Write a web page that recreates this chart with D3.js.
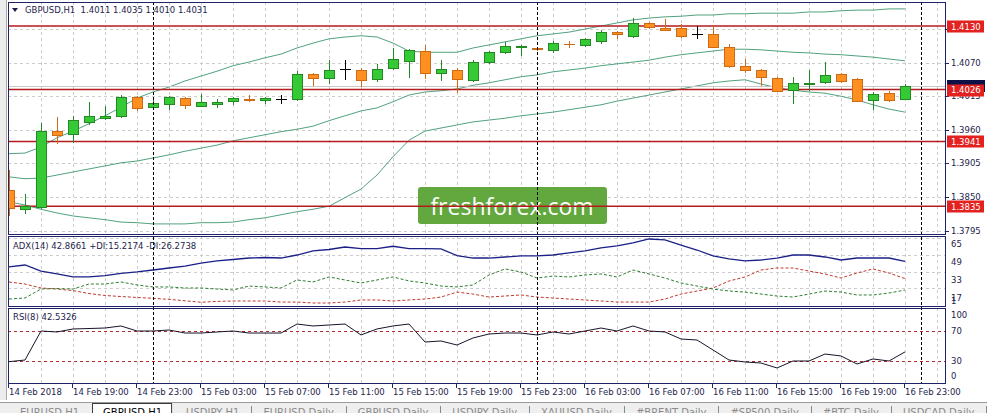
<!DOCTYPE html>
<html>
<head>
<meta charset="utf-8">
<script src="https://cdn.jsdelivr.net/npm/d3@7/dist/d3.min.js"></script>
<style>
body { margin: 0; background: #fff; overflow: hidden; }
svg { display: block; }
text { font-family: 'DejaVu Sans', sans-serif; }
</style>
</head>
<body>
<div id="chart"></div>
<script>
// ---- data (GBPUSD H1, 14 Feb 15:00 .. 16 Feb 23:00) ----
const symbolTitle = 'GBPUSD,H1  1.4011 1.4035 1.4010 1.4031';
const adxTitle = 'ADX(14) 42.8661 +DI:15.2174 -DI:26.2738';
const rsiTitle = 'RSI(8) 42.5326';

const tickLabels = ['14 Feb 2018', '14 Feb 19:00', '14 Feb 23:00', '15 Feb 03:00', '15 Feb 07:00',
    '15 Feb 11:00', '15 Feb 15:00', '15 Feb 19:00', '15 Feb 23:00', '16 Feb 03:00', '16 Feb 07:00',
    '16 Feb 11:00', '16 Feb 15:00', '16 Feb 19:00', '16 Feb 23:00'];

const opens = [1.3862, 1.3830, 1.3834, 1.3958, 1.3953, 1.3973, 1.3979, 1.3983, 1.4014, 1.3997,
    1.4002, 1.4012, 1.3999, 1.4002, 1.4007, 1.4011, 1.4009, 1.4011, 1.4011, 1.4051,
    1.4045, 1.4060, 1.4058, 1.4043, 1.4061, 1.4073, 1.4089, 1.4053, 1.4058, 1.4042,
    1.4071, 1.4087, 1.4096, 1.4094, 1.4091, 1.4101, 1.4099, 1.4106, 1.4120, 1.4114,
    1.4135, 1.4127, 1.4127, 1.4117, 1.4117, 1.4096, 1.4065, 1.4058, 1.4045, 1.4025,
    1.4035, 1.4038, 1.4051, 1.4043, 1.4009, 1.4020, 1.4011];
const highs = [1.3894, 1.3855, 1.3971, 1.3981, 1.3983, 1.4006, 1.3999, 1.4017, 1.4015, 1.4009,
    1.4015, 1.4014, 1.4019, 1.4011, 1.4014, 1.4017, 1.4014, 1.4017, 1.4056, 1.4053,
    1.4074, 1.4074, 1.4061, 1.4068, 1.4094, 1.4092, 1.4099, 1.4074, 1.4061, 1.4074,
    1.4089, 1.4104, 1.4099, 1.4096, 1.4106, 1.4106, 1.4110, 1.4124, 1.4122, 1.4143,
    1.4137, 1.4142, 1.4133, 1.4130, 1.4130, 1.4101, 1.4076, 1.4060, 1.4047, 1.4047,
    1.4058, 1.4071, 1.4053, 1.4045, 1.4022, 1.4024, 1.4035];
const lows = [1.3821, 1.3824, 1.3832, 1.3939, 1.3940, 1.3970, 1.3978, 1.3981, 1.3993, 1.3994,
    1.3994, 1.3996, 1.3999, 1.3997, 1.4002, 1.4007, 1.4004, 1.4004, 1.4009, 1.4033,
    1.4037, 1.4043, 1.4032, 1.4040, 1.4060, 1.4047, 1.4045, 1.4042, 1.4022, 1.4040,
    1.4069, 1.4086, 1.4083, 1.4091, 1.4087, 1.4096, 1.4097, 1.4102, 1.4110, 1.4112,
    1.4127, 1.4124, 1.4112, 1.4110, 1.4096, 1.4063, 1.4055, 1.4033, 1.4024, 1.4004,
    1.4025, 1.4037, 1.4038, 1.4007, 1.3994, 1.4007, 1.4010];
const closes = [1.3832, 1.3835, 1.3958, 1.3952, 1.3976, 1.3983, 1.3983, 1.4014, 1.3996, 1.4004,
    1.4014, 1.4001, 1.4006, 1.4006, 1.4012, 1.4009, 1.4012, 1.4011, 1.4051, 1.4045,
    1.4058, 1.4060, 1.4042, 1.4060, 1.4076, 1.4091, 1.4053, 1.4060, 1.4043, 1.4071,
    1.4087, 1.4097, 1.4097, 1.4092, 1.4102, 1.4100, 1.4109, 1.4120, 1.4117, 1.4135,
    1.4128, 1.4124, 1.4114, 1.4117, 1.4096, 1.4065, 1.4058, 1.4047, 1.4024, 1.4037,
    1.4037, 1.4050, 1.4040, 1.4007, 1.4019, 1.4009, 1.4031];

// Bollinger bands
const bbUpper = [1.3921, 1.3922, 1.3932, 1.3947, 1.3958, 1.3970, 1.3983, 1.3997, 1.4012, 1.4022,
    1.4030, 1.4040, 1.4048, 1.4056, 1.4065, 1.4071, 1.4078, 1.4084, 1.4094, 1.4102,
    1.4109, 1.4112, 1.4114, 1.4112, 1.4102, 1.4089, 1.4087, 1.4087, 1.4087, 1.4094,
    1.4099, 1.4104, 1.4109, 1.4114, 1.4117, 1.4120, 1.4125, 1.4130, 1.4135, 1.4140,
    1.4143, 1.4145, 1.4146, 1.4148, 1.4148, 1.4150, 1.4150, 1.4151, 1.4151, 1.4151,
    1.4153, 1.4153, 1.4155, 1.4156, 1.4156, 1.4158, 1.4158];
const bbMiddle = [1.3883, 1.3880, 1.3881, 1.3886, 1.3891, 1.3896, 1.3901, 1.3906, 1.3909, 1.3914,
    1.3919, 1.3925, 1.3930, 1.3935, 1.3942, 1.3947, 1.3952, 1.3957, 1.3961, 1.3966,
    1.3975, 1.3983, 1.3991, 1.3996, 1.4006, 1.4017, 1.4022, 1.4024, 1.4027, 1.4033,
    1.4037, 1.4042, 1.4047, 1.4050, 1.4055, 1.4058, 1.4061, 1.4065, 1.4068, 1.4071,
    1.4074, 1.4079, 1.4083, 1.4086, 1.4089, 1.4092, 1.4092, 1.4091, 1.4089, 1.4087,
    1.4086, 1.4084, 1.4083, 1.4081, 1.4079, 1.4076, 1.4073];
const bbLower = [1.3842, 1.3837, 1.3830, 1.3824, 1.3819, 1.3816, 1.3813, 1.3809, 1.3808, 1.3806,
    1.3806, 1.3806, 1.3808, 1.3808, 1.3809, 1.3813, 1.3816, 1.3821, 1.3826, 1.3830,
    1.3835, 1.3849, 1.3863, 1.3886, 1.3916, 1.3943, 1.3958, 1.3963, 1.3968, 1.3973,
    1.3976, 1.3979, 1.3983, 1.3986, 1.3989, 1.3993, 1.3997, 1.4001, 1.4007, 1.4012,
    1.4017, 1.4022, 1.4027, 1.4032, 1.4037, 1.4040, 1.4042, 1.4035, 1.4029, 1.4025,
    1.4022, 1.4020, 1.4015, 1.4009, 1.4001, 1.3994, 1.3989];

// ADX(14)
const adx = [37.4, 39.3, 33.5, 30.7, 27.8, 27.8, 29.0, 31.2, 32.6, 34.5,
    36.4, 38.3, 41.2, 43.2, 44.6, 46.0, 46.5, 46.0, 48.9, 52.8,
    54.2, 56.6, 55.0, 55.0, 57.3, 55.0, 55.0, 54.7, 48.4, 46.0,
    46.0, 47.0, 48.0, 48.0, 48.9, 50.9, 52.8, 55.7, 57.6, 60.5,
    64.3, 63.4, 58.5, 53.7, 48.0, 45.1, 43.2, 44.1, 46.0, 48.9,
    48.9, 47.0, 44.1, 46.0, 46.0, 46.0, 42.87];
const plusDI = [6.6, 7.6, 16.2, 16.7, 16.2, 21.0, 21.0, 23.0, 20.1, 18.2,
    18.2, 17.2, 17.2, 16.2, 15.3, 19.1, 18.2, 17.2, 24.9, 23.0,
    27.8, 24.9, 22.0, 24.9, 27.8, 24.0, 22.0, 19.1, 18.2, 20.1,
    29.7, 35.5, 32.6, 26.8, 28.7, 27.8, 29.7, 30.7, 27.8, 34.5,
    30.7, 26.8, 22.0, 19.1, 16.2, 14.3, 13.3, 11.4, 9.5, 8.5,
    11.4, 14.3, 13.3, 10.5, 10.5, 12.4, 15.22];
const minusDI = [23.0, 21.0, 17.2, 16.2, 14.7, 11.9, 10.0, 9.0, 8.1, 7.3,
    6.3, 4.9, 3.5, 4.3, 4.7, 4.7, 4.7, 3.7, 3.7, 2.8,
    2.8, 3.7, 5.7, 5.7, 4.7, 5.7, 6.6, 8.5, 13.3, 11.4,
    8.5, 9.5, 10.5, 8.5, 7.6, 6.6, 5.7, 4.7, 3.7, 3.7,
    3.7, 6.6, 11.4, 14.3, 17.2, 23.9, 27.8, 34.5, 36.4, 36.4,
    33.5, 30.7, 26.8, 31.6, 35.5, 31.6, 26.27];

// RSI(8)
const rsi = [29.5, 31.7, 70.4, 69.1, 73.1, 73.7, 74.4, 77.1, 70.4, 70.4,
    71.7, 67.7, 67.7, 69.1, 70.4, 67.7, 67.7, 67.7, 79.7, 77.1,
    78.4, 79.7, 65.1, 73.1, 77.1, 79.7, 55.7, 57.1, 51.7, 61.1,
    66.4, 67.7, 67.7, 65.1, 69.1, 66.4, 70.4, 74.4, 70.4, 77.1,
    70.4, 69.1, 59.7, 58.4, 45.1, 31.7, 29.1, 27.7, 21.1, 30.4,
    30.4, 39.7, 37.1, 26.4, 33.1, 30.4, 42.53];

const levels = [1.4130, 1.4026, 1.3941, 1.3835];   // horizontal lines
const lastPrice = 1.4031;
const priceTicks = [1.4125, 1.4070, 1.4015, 1.3960, 1.3905, 1.3850, 1.3795];
const adxTicks = [65, 49, 33, 17];
const rsiTicks = [100, 70, 30, 0];
const rsiLevels = [70, 30];
const daySeparators = [9, 33, 57];   // bar index of 00:00
const tabNames = ['EURUSD,H1', 'GBPUSD,H1', 'USDJPY,H1', 'EURUSD,Daily', 'GBPUSD,Daily', 'USDJPY,Daily',
    'XAUUSD,Daily', '#BRENT,Daily', '#SP500,Daily', '#BTC,Daily', 'USDCAD,Daily'];
const activeTab = 1;

// ---- layout ----
const W = 987, H = 413;
const left = 8, right = 945;
const mainTop = 2, mainBottom = 234;
const adxTop = 236, adxBottom = 306;
const rsiTop = 308, rsiBottom = 383;

const navy = '#1f2466';
const textColor = '#1d1d4a';
const gridColor = '#cccccc';

const svg = d3.select('#chart').append('svg')
    .attr('width', W)
    .attr('height', H);

// scales
const x = d3.scaleLinear().domain([0, 56]).range([9, 905]);
const y = d3.scaleLinear().domain([1.37895, 1.41693]).range([mainBottom, mainTop]);
const yAdx = d3.scaleLinear().domain([0, 66.2]).range([305.9, 237]);
const yAdxLabel = d3.scaleLinear().domain([17, 65]).range([297.7, 244]);
const yRsi = d3.scaleLinear().domain([0, 100]).range([383.8, 308.8]);

const px = v => Math.round(v) + 0.5;

// clip paths for panels
const defs = svg.append('defs');
function addClip(id, top, bottom) {
    defs.append('clipPath').attr('id', id)
        .append('rect')
        .attr('x', left).attr('y', top)
        .attr('width', right - left).attr('height', bottom - top);
}
addClip('clip-main', mainTop, mainBottom);
addClip('clip-adx', adxTop, adxBottom);
addClip('clip-rsi', rsiTop, rsiBottom);

// window edge on the left
svg.append('rect').attr('x', 0).attr('y', 0).attr('width', 7).attr('height', 400).attr('fill', '#ececec');
svg.append('line').attr('x1', 6.5).attr('x2', 6.5).attr('y1', 0).attr('y2', 400).attr('stroke', '#a8a8a8');

// vertical grid (every 2 bars) in all panels
const gridIdx = d3.range(2, 59, 2);
[[mainTop, mainBottom], [adxTop, adxBottom], [rsiTop, rsiBottom]].forEach(([t, b]) => {
    svg.append('g').selectAll('line')
        .data(gridIdx)
        .join('line')
        .attr('x1', d => px(x(d))).attr('x2', d => px(x(d)))
        .attr('y1', t).attr('y2', b)
        .attr('stroke', gridColor)
        .attr('stroke-dasharray', '3,3')
        .attr('shape-rendering', 'crispEdges');
});

// horizontal grid
svg.append('g').selectAll('line')
    .data(priceTicks)
    .join('line')
    .attr('x1', left).attr('x2', right)
    .attr('y1', d => px(y(d))).attr('y2', d => px(y(d)))
    .attr('stroke', gridColor)
    .attr('stroke-dasharray', '3,3')
    .attr('shape-rendering', 'crispEdges');

svg.append('g').selectAll('line')
    .data(adxTicks)
    .join('line')
    .attr('x1', left).attr('x2', right)
    .attr('y1', d => px(yAdx(d))).attr('y2', d => px(yAdx(d)))
    .attr('stroke', gridColor)
    .attr('stroke-dasharray', '3,3')
    .attr('shape-rendering', 'crispEdges');

// watermark
const wm = svg.append('g');
wm.append('rect')
    .attr('x', 418).attr('y', 187).attr('width', 189).attr('height', 37)
    .attr('rx', 3)
    .attr('fill', '#62a83e');
wm.append('text')
    .attr('x', 512).attr('y', 206)
    .attr('text-anchor', 'middle')
    .attr('dominant-baseline', 'central')
    .attr('fill', '#fff')
    .style('font-family', "'Open Sans', sans-serif")
    .style('font-size', '23px')
    .text('freshforex.com');

// ---- main panel ----
const main = svg.append('g').attr('clip-path', 'url(#clip-main)');

const bandLine = d3.line().x((d, i) => x(i)).y(d => y(d));
[bbUpper, bbMiddle, bbLower].forEach(band => {
    main.append('path')
        .attr('d', bandLine(band))
        .attr('fill', 'none')
        .attr('stroke', '#52a27e')
        .attr('stroke-width', 1);
});

// bid line
main.append('line')
    .attr('x1', left).attr('x2', right)
    .attr('y1', px(y(lastPrice))).attr('y2', px(y(lastPrice)))
    .attr('stroke', '#c9c9c9')
    .attr('shape-rendering', 'crispEdges');

// horizontal levels
main.selectAll('.level')
    .data(levels)
    .join('line')
    .attr('class', 'level')
    .attr('x1', left).attr('x2', right)
    .attr('y1', d => y(d)).attr('y2', d => y(d))
    .attr('stroke', '#b51a1f')
    .attr('stroke-width', 1.6);

// candles
const bars = opens.map((o, i) => ({ i: i, o: o, h: highs[i], l: lows[i], c: closes[i] }));
const style = {
    up: { fill: '#35c935', stroke: '#238a23' },
    down: { fill: '#ff8f1f', stroke: '#cf6a14' },
    flat: { fill: '#000', stroke: '#000' }
};
function kind(d) {
    if (d.c > d.o) return 'up';
    if (d.c < d.o) return 'down';
    return 'flat';
}

const candle = main.selectAll('.candle')
    .data(bars)
    .join('g')
    .attr('class', 'candle')
    .attr('shape-rendering', 'crispEdges');

candle.append('line')
    .attr('x1', d => px(x(d.i))).attr('x2', d => px(x(d.i)))
    .attr('y1', d => Math.round(y(d.h))).attr('y2', d => Math.round(y(d.l)) + 1)
    .attr('stroke', d => style[kind(d)].stroke);

candle.each(function (d) {
    const g = d3.select(this);
    const cx = Math.round(x(d.i));
    const top = Math.round(y(Math.max(d.o, d.c)));
    const bot = Math.round(y(Math.min(d.o, d.c)));
    const s = style[kind(d)];
    if (bot - top < 2) {
        // doji / very thin body
        g.append('line')
            .attr('x1', cx - 5).attr('x2', cx + 6)
            .attr('y1', top + 0.5).attr('y2', top + 0.5)
            .attr('stroke', s.stroke)
            .attr('stroke-width', bot - top < 1 ? 1 : 2);
    } else {
        g.append('rect')
            .attr('x', cx - 5 + 0.5).attr('y', top + 0.5)
            .attr('width', 10).attr('height', bot - top)
            .attr('fill', s.fill)
            .attr('stroke', s.stroke);
    }
});

// header
svg.append('path')
    .attr('d', 'M12,8 L18,8 L15,12 Z')
    .attr('fill', textColor);
svg.append('text')
    .attr('x', 25).attr('y', 10)
    .attr('dominant-baseline', 'central')
    .attr('fill', textColor)
    .style('font-size', '8.5px')
    .style('white-space', 'pre')
    .attr('xml:space', 'preserve')
    .text(symbolTitle);

// ---- ADX panel ----
const adxG = svg.append('g').attr('clip-path', 'url(#clip-adx)');
const adxLine = d3.line().x((d, i) => x(i)).y(d => yAdx(d));
adxG.append('path').attr('d', adxLine(minusDI))
    .attr('fill', 'none').attr('stroke', '#c0392b').attr('stroke-dasharray', '3,2');
adxG.append('path').attr('d', adxLine(plusDI))
    .attr('fill', 'none').attr('stroke', '#2e7d32').attr('stroke-dasharray', '3,2');
adxG.append('path').attr('d', adxLine(adx))
    .attr('fill', 'none').attr('stroke', '#1b2088').attr('stroke-width', 1.3);

svg.append('text')
    .attr('x', 13).attr('y', 246)
    .attr('dominant-baseline', 'central')
    .attr('fill', textColor)
    .style('font-size', '8.5px')
    .text(adxTitle);

// ---- RSI panel ----
const rsiG = svg.append('g').attr('clip-path', 'url(#clip-rsi)');
rsiG.selectAll('.rsi-level')
    .data(rsiLevels)
    .join('line')
    .attr('class', 'rsi-level')
    .attr('x1', left).attr('x2', right)
    .attr('y1', d => px(yRsi(d))).attr('y2', d => px(yRsi(d)))
    .attr('stroke', '#b52a2a')
    .attr('stroke-dasharray', '3,3')
    .attr('shape-rendering', 'crispEdges');
rsiG.append('path')
    .attr('d', d3.line().x((d, i) => x(i)).y(d => yRsi(d))(rsi))
    .attr('fill', 'none')
    .attr('stroke', '#15152a')
    .attr('stroke-width', 1);

svg.append('text')
    .attr('x', 13).attr('y', 317)
    .attr('dominant-baseline', 'central')
    .attr('fill', textColor)
    .style('font-size', '8.5px')
    .text(rsiTitle);

// day separators through all panels
svg.selectAll('.sep')
    .data(daySeparators)
    .join('line')
    .attr('class', 'sep')
    .attr('x1', d => px(x(d))).attr('x2', d => px(x(d)))
    .attr('y1', mainTop).attr('y2', rsiBottom)
    .attr('stroke', '#000')
    .attr('stroke-dasharray', '3,2')
    .attr('shape-rendering', 'crispEdges');

// panel borders
[[mainTop, mainBottom], [adxTop, adxBottom], [rsiTop, rsiBottom]].forEach(([t, b]) => {
    svg.append('rect')
        .attr('x', left + 0.5).attr('y', t + 0.5)
        .attr('width', right - left).attr('height', b - t)
        .attr('fill', 'none')
        .attr('stroke', navy)
        .attr('shape-rendering', 'crispEdges');
});

// ---- right axis ----
const axisX = right + 6;
svg.append('g').selectAll('text')
    .data(priceTicks)
    .join('text')
    .attr('x', axisX).attr('y', d => y(d))
    .attr('dominant-baseline', 'central')
    .attr('fill', textColor)
    .style('font-size', '8.5px')
    .text(d => d.toFixed(4));
svg.append('g').selectAll('line')
    .data(priceTicks)
    .join('line')
    .attr('x1', right + 1).attr('x2', right + 4)
    .attr('y1', d => px(y(d))).attr('y2', d => px(y(d)))
    .attr('stroke', navy)
    .attr('shape-rendering', 'crispEdges');

// last price box (mostly hidden behind the level label)
svg.append('rect')
    .attr('x', right + 2).attr('y', Math.round(y(lastPrice)) - 6)
    .attr('width', 38).attr('height', 12)
    .attr('fill', '#0e1048');

// level labels
const lvl = svg.append('g').selectAll('g')
    .data(levels)
    .join('g');
lvl.append('rect')
    .attr('x', right + 2).attr('y', d => Math.round(y(d)) - 5.5)
    .attr('width', 37).attr('height', 12)
    .attr('fill', '#e3211f');
lvl.append('text')
    .attr('x', axisX).attr('y', d => y(d) + 0.5)
    .attr('dominant-baseline', 'central')
    .attr('fill', '#fff')
    .style('font-size', '8.5px')
    .text(d => d.toFixed(4));

svg.append('g').selectAll('text')
    .data(adxTicks)
    .join('text')
    .attr('x', axisX).attr('y', d => yAdxLabel(d))
    .attr('dominant-baseline', 'central')
    .attr('fill', textColor)
    .style('font-size', '8.5px')
    .text(d => d);
svg.append('text')
    .attr('x', axisX).attr('y', yAdxLabel(17) + 3)
    .attr('dominant-baseline', 'central')
    .attr('fill', textColor)
    .style('font-size', '8.5px')
    .text('1');

svg.append('g').selectAll('text')
    .data(rsiTicks)
    .join('text')
    .attr('x', axisX)
    .attr('y', d => Math.min(Math.max(yRsi(d), rsiTop + 7), rsiBottom - 7))
    .attr('dominant-baseline', 'central')
    .attr('fill', textColor)
    .style('font-size', '8.5px')
    .text(d => d);

// ---- time axis ----
const tickIdx = d3.range(0, 57, 4);
svg.append('g').selectAll('line')
    .data(tickIdx)
    .join('line')
    .attr('x1', d => px(x(d) - 1)).attr('x2', d => px(x(d) - 1))
    .attr('y1', rsiBottom).attr('y2', rsiBottom + 5)
    .attr('stroke', navy)
    .attr('shape-rendering', 'crispEdges');
svg.append('g').selectAll('text')
    .data(tickIdx)
    .join('text')
    .attr('x', d => x(d))
    .attr('y', 392)
    .attr('dominant-baseline', 'central')
    .attr('fill', textColor)
    .style('font-size', '8.5px')
    .text((d, i) => tickLabels[i]);

// ---- tab strip at the bottom ----
const tabs = svg.append('g');
tabs.append('rect')
    .attr('x', 0).attr('y', 403).attr('width', W).attr('height', 10)
    .attr('fill', '#efefef');
tabs.append('line')
    .attr('x1', 0).attr('x2', W).attr('y1', 402.5).attr('y2', 402.5)
    .attr('stroke', '#9a9a9a');

let tx = 20;
tabNames.forEach((name, i) => {
    const t = tabs.append('text')
        .attr('x', tx).attr('y', 416)
        .attr('fill', i === activeTab ? '#000' : '#8a8a8a')
        .style('font-size', '10px')
        .text(name);
    const w = t.node().getComputedTextLength();
    if (i === activeTab) {
        tabs.insert('rect', 'text')
            .attr('x', tx - 10.5).attr('y', 403.5)
            .attr('width', w + 20).attr('height', 12)
            .attr('fill', '#fff')
            .attr('stroke', '#3a3a3a');
    } else if (i + 1 !== activeTab) {
        tabs.append('line')
            .attr('x1', Math.round(tx + w + 12) + 0.5).attr('x2', Math.round(tx + w + 12) + 0.5)
            .attr('y1', 406).attr('y2', 413)
            .attr('stroke', '#8a8a8a');
    }
    tx += w + 24;
});
</script>
</body>
</html>
